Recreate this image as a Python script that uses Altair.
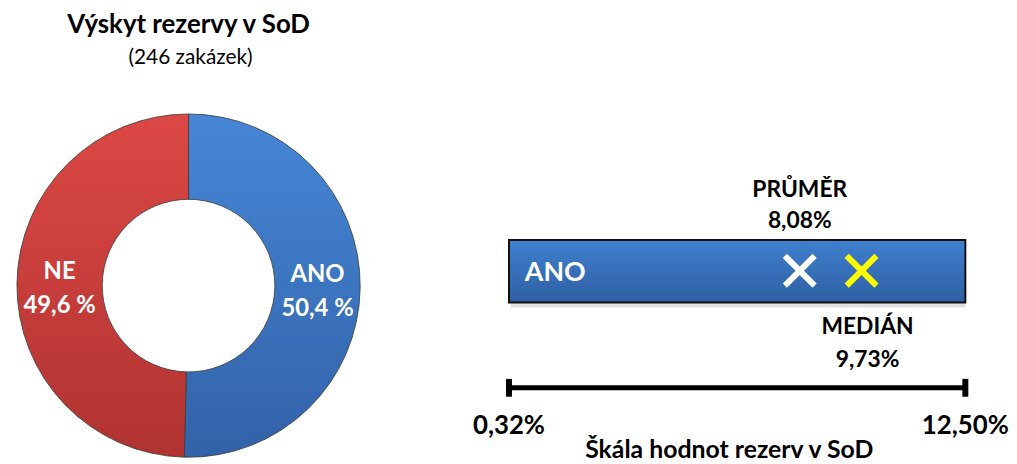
import altair as alt
import pandas as pd

# ---- data ----
title_text = "Výskyt rezervy v SoD"
subtitle_text = "(246 zakázek)"
donut_categories = ["ANO", "NE"]
donut_shares = [50.4, 49.6]
donut_labels = ["50,4 %", "49,6 %"]

bar_label = "ANO"
scale_min = 0.32
scale_max = 12.5
end_labels = ["0,32%", "12,50%"]
stat_names = ["PRŮMĚR", "MEDIÁN"]
stat_values = [8.08, 9.73]
stat_labels = ["8,08%", "9,73%"]
axis_title = "Škála hodnot rezerv v SoD"

FONT = "Lato"

def vgrad(top, bottom):
    return {"gradient": "linear", "x1": 0, "y1": 0, "x2": 0, "y2": 1,
            "stops": [{"offset": 0, "color": top}, {"offset": 1, "color": bottom}]}

blue_grad = vgrad("#4687d6", "#3262a8")
red_grad = vgrad("#dc4845", "#b03331")
bar_grad = vgrad("#3f80cf", "#2f5fa3")

# ---- left panel: donut ----
donut_df = pd.DataFrame({"cat": donut_categories, "share": donut_shares,
                         "label": donut_labels, "idx": list(range(len(donut_categories)))})
donut_df["txt"] = donut_df["cat"] + "\n" + donut_df["label"]

CX, CY = 182, 278
donut_base = alt.Chart(donut_df).encode(
    theta=alt.Theta("share:Q", stack=True),
    order=alt.Order("idx:Q"),
)
arcs = donut_base.mark_arc(outerRadius=173, innerRadius=87, stroke="#3a3a3a",
                           strokeWidth=0.8).encode(
    x=alt.value(CX), y=alt.value(CY),
    fill=alt.condition(alt.datum.cat == "ANO", alt.value(blue_grad), alt.value(red_grad)),
)
arc_text = donut_base.mark_text(radius=130, font=FONT, fontWeight="bold", fontSize=24,
                                color="white", lineBreak="\n", lineHeight=34,
                                align="center", baseline="middle").encode(
    x=alt.value(CX), y=alt.value(CY - 12), text="txt:N")

title_df = pd.DataFrame({"t": [title_text], "s": [subtitle_text]})
title_mark = alt.Chart(title_df).mark_text(font=FONT, fontWeight="bold", fontSize=26,
                                           color="black", baseline="middle").encode(
    x=alt.value(CX), y=alt.value(15), text="t:N")
subtitle_mark = alt.Chart(title_df).mark_text(font=FONT, fontSize=21, color="black",
                                              baseline="middle").encode(
    x=alt.value(CX + 2), y=alt.value(49), text="s:N")

left = alt.layer(arcs, arc_text, title_mark, subtitle_mark).properties(width=380, height=456)

# ---- right panel: scale ----
xscale = alt.Scale(domain=[scale_min, scale_max], range=[125, 585])
scale_df = pd.DataFrame({"start": [scale_min], "end": [scale_max], "lab": [bar_label]})
ends_df = pd.DataFrame({"v": [scale_min, scale_max], "label": end_labels})
stats_df = pd.DataFrame({"name": stat_names, "v": stat_values, "label": stat_labels})
stats_df["txt"] = stats_df["name"] + "\n" + stats_df["label"]

shadow = alt.Chart(scale_df).mark_rect(color="#000000", opacity=0.12, xOffset=2).encode(
    x=alt.X("start:Q", scale=xscale, axis=None), x2="end:Q",
    y=alt.value(236), y2=alt.value(300))
bar = alt.Chart(scale_df).mark_rect(fill=bar_grad, stroke="#111111", strokeWidth=2).encode(
    x=alt.X("start:Q", scale=xscale, axis=None), x2="end:Q",
    y=alt.value(232), y2=alt.value(295))
bar_text = alt.Chart(scale_df).mark_text(font=FONT, fontWeight="bold", fontSize=27,
                                         color="white", align="left", baseline="middle",
                                         dx=16).encode(
    x=alt.X("start:Q", scale=xscale, axis=None), y=alt.value(265), text="lab:N")

markers = alt.Chart(stats_df).mark_point(shape="M-1,-1L1,1M1,-1L-1,1", size=900,
                                         filled=False, strokeWidth=6, opacity=1,
                                         strokeCap="butt").encode(
    x=alt.X("v:Q", scale=xscale, axis=None), y=alt.value(263),
    color=alt.Color("name:N", scale=alt.Scale(domain=stat_names, range=["#ffffff", "#ffff00"]),
                    legend=None))

mean_txt = alt.Chart(stats_df).transform_filter(alt.datum.name == stat_names[0]).mark_text(
    font=FONT, fontWeight="bold", fontSize=23, color="black", lineBreak="\n",
    lineHeight=31, align="center", baseline="middle").encode(
    x=alt.X("v:Q", scale=xscale, axis=None), y=alt.value(182), text="txt:N")
median_txt = alt.Chart(stats_df).transform_filter(alt.datum.name == stat_names[1]).mark_text(
    font=FONT, fontWeight="bold", fontSize=23, color="black", lineBreak="\n",
    lineHeight=33, align="center", baseline="middle", dx=6).encode(
    x=alt.X("v:Q", scale=xscale, axis=None), y=alt.value(320), text="txt:N")

scale_line = alt.Chart(scale_df).mark_rule(color="black", strokeWidth=5).encode(
    x=alt.X("start:Q", scale=xscale, axis=None), x2="end:Q", y=alt.value(381))
caps = alt.Chart(ends_df).mark_rule(color="black", strokeWidth=6).encode(
    x=alt.X("v:Q", scale=xscale, axis=None), y=alt.value(372), y2=alt.value(390))
end_txt = alt.Chart(ends_df).mark_text(font=FONT, fontWeight="bold", fontSize=26,
                                       color="black", baseline="middle").encode(
    x=alt.X("v:Q", scale=xscale, axis=None), y=alt.value(420), text="label:N")
axis_df = pd.DataFrame({"t": [axis_title]})
axis_txt = alt.Chart(axis_df).mark_text(font=FONT, fontWeight="bold", fontSize=25,
                                        color="black", baseline="alphabetic").encode(
    x=alt.value(347), y=alt.value(452), text="t:N")

right = alt.layer(shadow, bar, bar_text, markers, mean_txt, median_txt, scale_line, caps,
                  end_txt, axis_txt).properties(width=621, height=456)

chart = alt.hconcat(left, right, spacing=0).properties(padding=0).configure_view(
    stroke=None).configure_concat(spacing=0)

chart.save("out.html", embed_options={"renderer": "svg", "actions": False})
